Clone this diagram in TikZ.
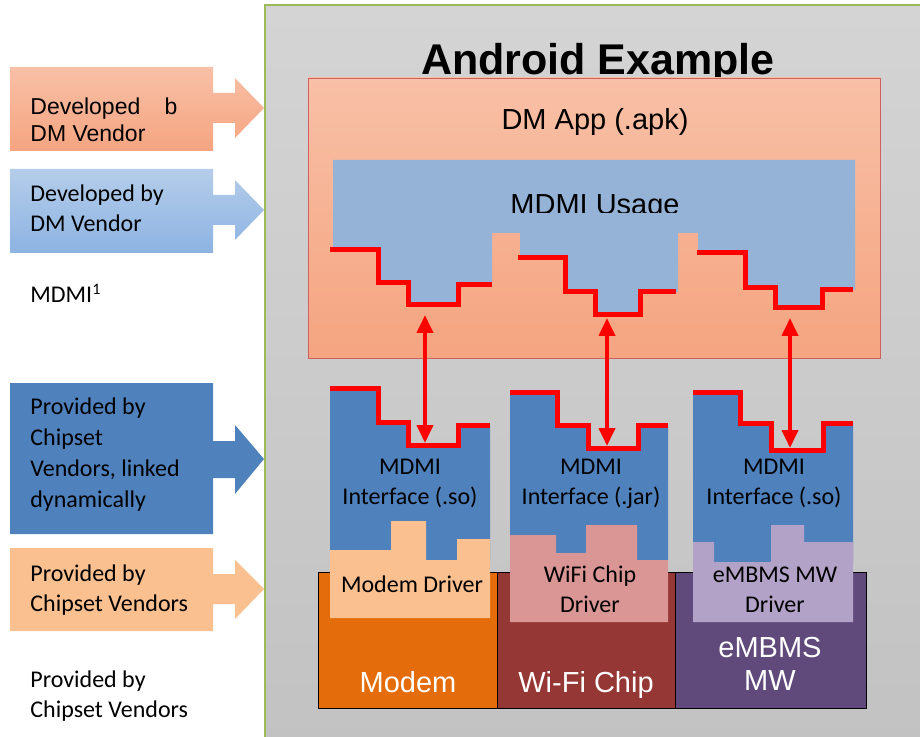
\documentclass[tikz,border=0pt]{standalone}
\usepackage{fontspec}
\setmainfont{Carlito}
\newfontfamily\arialfont{Liberation Sans}
\usepackage{xcolor}
\usetikzlibrary{positioning,arrows.meta}

\definecolor{salmonT}{HTML}{F8C0A6}
\definecolor{salmonB}{HTML}{F5A480}
\definecolor{usageblue}{HTML}{95B3D7}
\definecolor{lightblueT}{HTML}{B4CDEA}
\definecolor{lightblueB}{HTML}{8DB3E2}
\definecolor{ifblue}{HTML}{4F81BD}
\definecolor{drvorange}{HTML}{FAC090}
\definecolor{drvpink}{HTML}{D99694}
\definecolor{drvlav}{HTML}{B3A2C7}
\definecolor{modemc}{HTML}{E46C0A}
\definecolor{wific}{HTML}{953735}
\definecolor{embmsc}{HTML}{604A7B}
\definecolor{panelT}{HTML}{D4D4D4}
\definecolor{panelB}{HTML}{C2C2C2}
\definecolor{panelline}{HTML}{9BBB59}
\definecolor{appline}{HTML}{D0605E}

\begin{document}
\begin{tikzpicture}[x=0.5pt, y=-0.5pt,
    txt/.style={font=\fontsize{12}{15}\selectfont, inner sep=0pt, align=center},
    legend/.style={txt, align=left, anchor=base west},
    hw/.style={font=\arialfont\fontsize{14.5}{16.5}\selectfont, text=white, inner sep=0pt, align=center},
    redline/.style={draw=red, line width=2.5pt},
    dblarrow/.style={draw=red, line width=2pt, {Triangle[width=8pt,length=9pt]}-{Triangle[width=8pt,length=9pt]}}]
    \useasboundingbox (0,0) rectangle (920,737);

    % legend arrows
    \shade[top color=salmonT, bottom color=salmonB] (10,67) -- (213,67) -- (213,93) -- (235,93) -- (235,78) -- (264,108) -- (235,138) -- (235,123) -- (213,123) -- (213,151) -- (10,151) -- cycle;
    \begin{scope}
        \clip (10,67) rectangle (213,142);
        \node[legend, font=\arialfont\fontsize{11.5}{13.5}\selectfont] (devb) at (30,142) {Developed\hspace{9pt} b\\DM Vendor};
    \end{scope}
    \shade[top color=lightblueT, bottom color=lightblueB] (10,169) -- (213,169) -- (213,195) -- (235,195) -- (235,180) -- (264,210) -- (235,240) -- (235,225) -- (213,225) -- (213,253) -- (10,253) -- cycle;
    \node[legend] (devby) at (30,232) {Developed by\\DM Vendor};
    \node[legend] (mdmi) at (30,303) {MDMI\textsuperscript{1}};
    \fill[ifblue] (10,383) -- (213,383) -- (213,441) -- (235,441) -- (235,425) -- (264,459) -- (235,494) -- (235,478) -- (213,478) -- (213,534) -- (10,534) -- cycle;
    \node[legend, font=\fontsize{12}{15.5}\selectfont] (linked) at (30,507) {Provided by\\Chipset\\Vendors, linked\\dynamically};
    \fill[drvorange] (10,548) -- (213,548) -- (213,574) -- (235,574) -- (235,560) -- (264,589) -- (235,619) -- (235,604) -- (213,604) -- (213,631) -- (10,631) -- cycle;
    \node[legend] (provA) at (30,611) {Provided by\\Chipset Vendors};
    \node[legend] (provB) at (30,717) {Provided by\\Chipset Vendors};

    % android panel
    \shade[top color=panelT, bottom color=panelB, draw=panelline, line width=1pt] (265,5) rectangle (930,747);
    \node[font=\arialfont\bfseries\fontsize{21.5}{24}\selectfont, inner sep=0pt, anchor=base] (title) at (598,75) {Android Example};

    % DM app
    \shade[top color=salmonT, bottom color=salmonB, draw=appline] (308,78) rectangle (880,358);
    \node[font=\arialfont\fontsize{14.5}{17}\selectfont, inner sep=0pt, anchor=base] (app) at (595,130) {DM App (.apk)};
    \fill[usageblue] (333,160) -- (855,160) -- (855,290) -- (822,290) -- (822,308) -- (775,308) -- (775,288) -- (745,288) -- (745,253) -- (698,253) -- (698,233) -- (678,233) -- (678,292) -- (640,292) -- (640,315) -- (595,315) -- (595,292) -- (565,292) -- (565,258) -- (520,258) -- (520,233) -- (492,233) -- (492,285) -- (458,285) -- (458,305) -- (408,305) -- (408,283) -- (378,283) -- (378,250) -- (333,250) -- cycle;
    \begin{scope}
        \clip (333,160) rectangle (855,213);
        \node[font=\arialfont\fontsize{14.5}{17}\selectfont, inner sep=0pt, anchor=base] (usage) at (595,215) {MDMI Usage};
    \end{scope}
    \draw[redline] (330,250) -- (378,250) -- (378,283) -- (408,283) -- (408,305) -- (458,305) -- (458,285) -- (492,285);
    \draw[redline] (518,258) -- (565,258) -- (565,292) -- (595,292) -- (595,315) -- (640,315) -- (640,292) -- (676,292);
    \draw[redline] (697,253) -- (745,253) -- (745,288) -- (775,288) -- (775,308) -- (822,308) -- (822,290) -- (853,290);

    % hardware
    \fill[modemc, draw=black] (318,572) rectangle (497,708);
    \fill[wific, draw=black] (497,572) rectangle (675,708);
    \fill[embmsc, draw=black] (675,572) rectangle (866,708);
    \node[hw, anchor=base] (modem) at (408,692) {Modem};
    \node[hw, anchor=base] (wifi) at (586,692) {Wi-Fi Chip};
    \node[hw, anchor=base] (embms) at (770,690) {eMBMS\\MW};

    % MDMI interfaces
    \fill[ifblue] (330,388) -- (378,388) -- (378,422) -- (408,422) -- (408,445) -- (458,445) -- (458,425) -- (490,425) -- (490,560) -- (330,560) -- cycle;
    \fill[ifblue] (510,392) -- (557,392) -- (557,425) -- (588,425) -- (588,448) -- (638,448) -- (638,425) -- (668,425) -- (668,560) -- (510,560) -- cycle;
    \fill[ifblue] (693,392) -- (740,392) -- (740,423) -- (771,423) -- (771,450) -- (823,450) -- (823,423) -- (853,423) -- (853,562) -- (693,562) -- cycle;
    \fill[drvorange] (330,550) -- (391,550) -- (391,521) -- (426,521) -- (426,560) -- (457,560) -- (457,539) -- (490,539) -- (490,618) -- (330,618) -- cycle;
    \fill[drvpink] (510,535) -- (556,535) -- (556,553) -- (586,553) -- (586,525) -- (637,525) -- (637,560) -- (668,560) -- (668,622) -- (510,622) -- cycle;
    \fill[drvlav] (693,542) -- (714,542) -- (714,562) -- (771,562) -- (771,525) -- (804,525) -- (804,542) -- (853,542) -- (853,622) -- (693,622) -- cycle;
    \draw[redline] (330,388) -- (378,388) -- (378,422) -- (408,422) -- (408,445) -- (458,445) -- (458,425) -- (490,425);
    \draw[redline] (510,392) -- (557,392) -- (557,425) -- (588,425) -- (588,448) -- (638,448) -- (638,425) -- (668,425);
    \draw[redline] (693,392) -- (740,392) -- (740,423) -- (771,423) -- (771,450) -- (823,450) -- (823,423) -- (853,423);

    \node[txt, anchor=base] (ifA) at (410,504) {MDMI\\Interface (.so)};
    \node[txt, anchor=base] (ifB) at (591,504) {MDMI\\Interface (.jar)};
    \node[txt, anchor=base] (ifC) at (774,504) {MDMI\\Interface (.so)};
    \node[txt, anchor=base] (drvA) at (412,592) {Modem Driver};
    \node[txt, anchor=base] (drvB) at (590,612) {WiFi Chip\\Driver};
    \node[txt, anchor=base] (drvC) at (775,612) {eMBMS MW\\Driver};

    % links
    \coordinate (u1) at (425,315);
    \coordinate (i1) at (425,443);
    \coordinate (u2) at (607,318);
    \coordinate (i2) at (607,446);
    \coordinate (u3) at (790,318);
    \coordinate (i3) at (790,448);
    \draw[dblarrow] (u1) -- (i1);
    \draw[dblarrow] (u2) -- (i2);
    \draw[dblarrow] (u3) -- (i3);
\end{tikzpicture}
\end{document}
